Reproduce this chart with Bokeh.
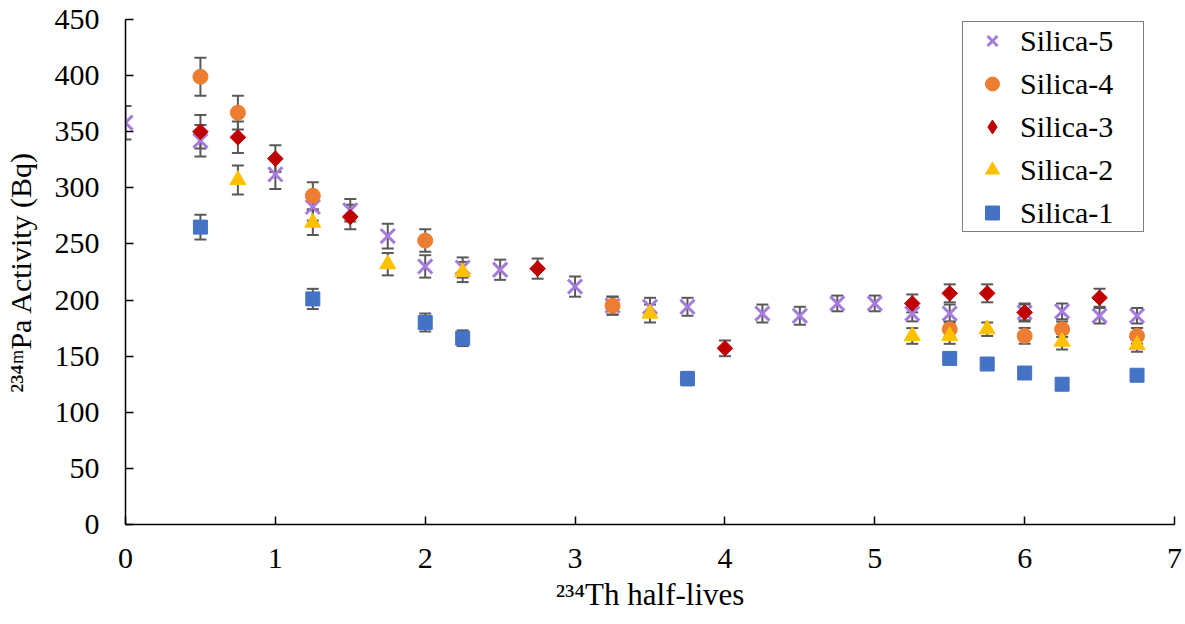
from bokeh.plotting import figure
from bokeh.models import ColumnDataSource, Whisker, TeeHead, FixedTicker
from bokeh.embed import file_html
from bokeh.resources import INLINE

# ---- data ----
x5 = [0, 0.5, 1, 1.25, 1.5, 1.75, 2, 2.25, 2.5, 3, 3.25, 3.5, 3.75, 4.25, 4.5, 4.75, 5, 5.25, 5.5, 6, 6.25, 6.5, 6.75]
y5 = [358, 342, 312, 283, 280, 257, 230, 229, 227, 212, 195, 194, 194, 188, 186, 197, 197, 188, 188, 189, 190, 186, 186]
e5 = [15, 14, 13, 12, 10, 11, 10, 9, 9, 9, 8, 8, 8, 8, 8, 7, 7, 7, 8, 7, 7, 7, 7]

x4 = [0.5, 0.75, 1.25, 2, 3.25, 5.5, 6, 6.25, 6.75]
y4 = [399, 367, 293, 253, 195, 174, 168, 174, 168]
e4 = [17, 15, 12, 10, 8, 7, 7, 7, 7]

x3 = [0.5, 0.75, 1, 1.5, 2.75, 4, 5.25, 5.5, 5.75, 6, 6.5]
y3 = [350, 345, 326, 274, 228, 157, 197, 206, 206, 189, 202]
e3 = [15, 14, 12, 11, 9, 7, 8, 8, 8, 8, 8]

x2 = [0.75, 1.25, 1.75, 2.25, 3.5, 5.25, 5.5, 5.75, 6.25, 6.75]
y2 = [307, 269, 232, 225, 188, 168, 168, 174, 163, 160]
e2 = [13, 11, 10, 9, 8, 7, 7, 6, 7, 6]

x1 = [0.5, 1.25, 2, 2.25, 3.75, 5.5, 5.75, 6, 6.25, 6.75]
y1 = [265, 201, 180, 166, 130, 148, 143, 135, 125, 133]
e1 = [11, 9, 8, 7, 6, 5, 5, 5, 5, 5]

names = ["Silica-5", "Silica-4", "Silica-3", "Silica-2", "Silica-1"]
x_ticks = [0, 1, 2, 3, 4, 5, 6, 7]
y_ticks = [0, 50, 100, 150, 200, 250, 300, 350, 400, 450]
x_title = "\u00b2\u00b3\u2074Th half-lives"
y_title = "\u00b2\u00b3\u2074\u1d50Pa Activity (Bq)"

FONT = "Liberation Serif"
ERR_COLOR = "#595959"

p = figure(width=1183, height=620, x_range=(0, 7), y_range=(0, 450),
           output_backend="svg", toolbar_location=None,
           min_border_left=124, min_border_right=9, min_border_top=19, min_border_bottom=96)
p.outline_line_color = None
p.xgrid.visible = False
p.ygrid.visible = False
p.background_fill_color = "white"

for ax in (p.xaxis, p.yaxis):
    ax.axis_line_color = "black"
    ax.axis_line_width = 1.5
    ax.major_tick_line_color = "black"
    ax.major_tick_line_width = 1.5
    ax.major_tick_in = 8
    ax.major_tick_out = 0
    ax.minor_tick_line_color = None
    ax.major_label_text_font = FONT
    ax.major_label_text_font_size = "30px"
    ax.major_label_text_color = "black"
    ax.axis_label_text_font = FONT
    ax.axis_label_text_font_style = "normal"
    ax.axis_label_text_color = "black"
p.xaxis.ticker = FixedTicker(ticks=x_ticks)
p.yaxis.ticker = FixedTicker(ticks=y_ticks)
p.yaxis.major_label_standoff = 26
p.xaxis.major_label_standoff = 24
p.xaxis.axis_label = x_title
p.yaxis.axis_label = y_title
p.xaxis.axis_label_text_font_size = "31px"
p.yaxis.axis_label_text_font_size = "30px"
p.xaxis.axis_label_standoff = 6
p.yaxis.axis_label_standoff = 15

series = [
    (x5, y5, e5, "x", "#A57BDB", 20),
    (x4, y4, e4, "circle", "#ED7D31", 15),
    (x3, y3, e3, "square", "#C00000", 11),
    (x2, y2, e2, "triangle", "#FFC000", 16),
    (x1, y1, e1, "square", "#4472C4", 14),
]

for (xs, ys, es, mk, col, sz), name in zip(series, names):
    src = ColumnDataSource(dict(x=xs, y=ys,
                                lo=[a - b for a, b in zip(ys, es)],
                                hi=[a + b for a, b in zip(ys, es)]))
    w = Whisker(source=src, base="x", upper="hi", lower="lo", dimension="height",
                line_color=ERR_COLOR, line_width=2, level="underlay",
                upper_head=TeeHead(size=12, line_color=ERR_COLOR, line_width=2),
                lower_head=TeeHead(size=12, line_color=ERR_COLOR, line_width=2))
    p.add_layout(w)
    if mk == "x":
        p.scatter("x", "y", source=src, marker="x", size=sz, line_color=col,
                  line_width=3, legend_label=name)
    elif name == "Silica-3":
        # diamond drawn for the legend entry (hidden beneath the rotated squares)
        p.scatter("x", "y", source=src, marker="diamond", size=15,
                  fill_color=col, line_color=col, legend_label=name)
        p.scatter("x", "y", source=src, marker="square", size=sz, angle=0.785398,
                  fill_color=col, line_color=col)
    else:
        p.scatter("x", "y", source=src, marker=mk, size=sz, fill_color=col,
                  line_color=col, legend_label=name)

lg = p.legend[0]
lg.location = (837, 292)
lg.margin = 0
lg.padding = 1
lg.spacing = 8
lg.glyph_width = 56
lg.glyph_height = 35
lg.label_height = 35
lg.label_width = 122
lg.label_standoff = 0
lg.label_text_font = FONT
lg.label_text_font_size = "30px"
lg.label_text_color = "black"
lg.border_line_color = "black"
lg.border_line_width = 1.5
lg.background_fill_color = "white"
lg.background_fill_alpha = 1.0

open("out.html", "w").write(file_html(p, INLINE))
